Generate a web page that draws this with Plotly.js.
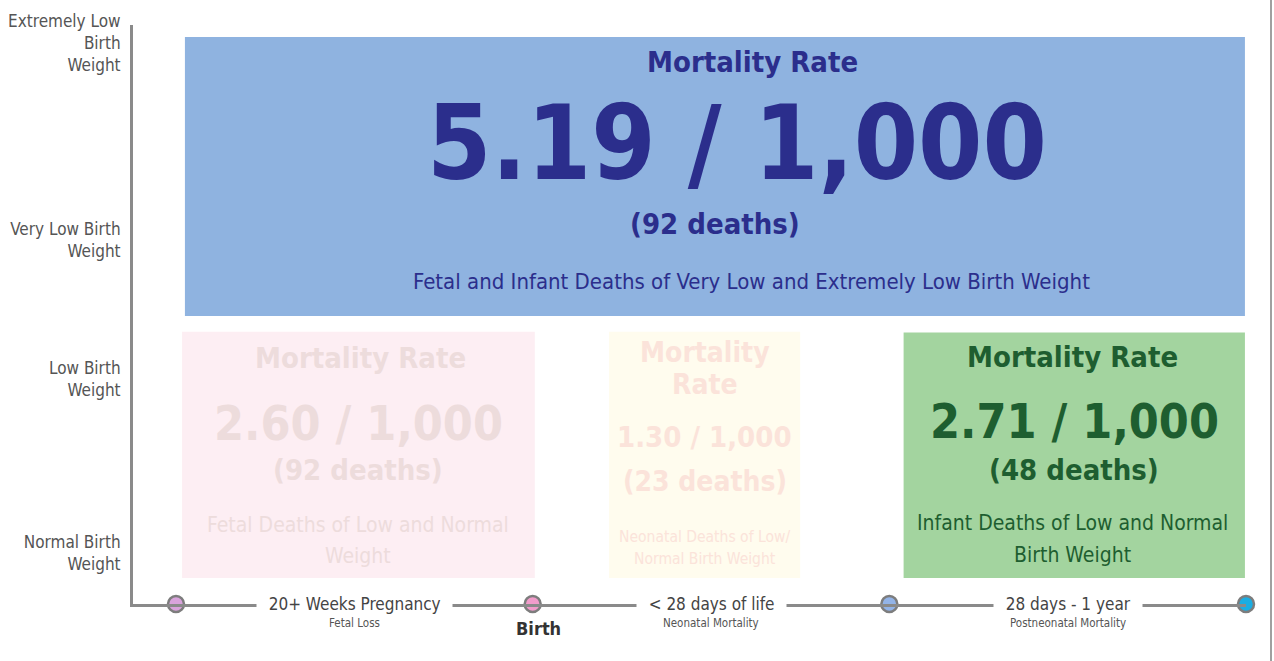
<!DOCTYPE html>
<html>
<head>
<meta charset="utf-8">
<script src="https://cdn.plot.ly/plotly-3.0.1.min.js"></script>
<style>
  html, body { margin: 0; padding: 0; background: #ffffff; }
  #chart { width: 1274px; height: 661px; }
</style>
</head>
<body>
<div id="chart"></div>
<script>
// ---------------- DATA ----------------
const milestones = ["20 weeks gestation", "Birth", "28 days", "1 year"];
const milestoneLabel = ["", "Birth", "", ""];
const periods = ["20+ Weeks Pregnancy", "< 28 days of life", "28 days - 1 year"];
const periodSub = ["Fetal Loss", "Neonatal Mortality", "Postneonatal Mortality"];
const weightBands = ["Normal Birth<br>Weight", "Low Birth<br>Weight", "Very Low Birth<br>Weight", "Extremely Low<br>Birth<br>Weight"];

const boxRates = [5.19, 2.60, 1.30, 2.71];
const boxDeaths = [92, 92, 23, 48];
const boxDesc = [
  "Fetal and Infant Deaths of Very Low and Extremely Low Birth Weight",
  "Fetal Deaths of Low and Normal<br>Weight",
  "Neonatal Deaths of Low/<br>Normal Birth Weight",
  "Infant Deaths of Low and Normal<br>Birth Weight"
];
const boxTitle = ["Mortality Rate", "Mortality Rate", "Mortality<br>Rate", "Mortality Rate"];
const boxFrom = [0, 0, 1, 2];   // milestone index where period starts
const boxTo = [3, 1, 2, 3];     // milestone index where period ends
const boxBandLo = [2, 0, 0, 0]; // weight band (bottom)
const boxBandHi = [4, 2, 2, 2]; // weight band (top)

// ---------------- STYLE ----------------
const FONT = '"DejaVu Sans Condensed", "Liberation Sans Narrow", "Arial Narrow", sans-serif';
const M = {l: 133, r: 28, t: 25, b: 57};
const H = 661;
const plotH = H - M.t - M.b;
const py = p => (H - M.b - p) * 4 / plotH;   // pixel row -> y units
const pp = p => (H - M.b - p) / plotH;       // pixel row -> paper units

const milestoneColors = ["#d9a3dc", "#f29ccb", "#93b4e8", "#1bade2"];
const boxFill = ["#8fb3e0", "#fdeef3", "#fffcee", "#a3d49f"];
const boxText = ["#2b2e8c", "#eddcdc", "#fbe3da", "#1e5e30"];
const boxInset = [ // [left, right, bottom, top] in axis units
  [0.025, 0.003, -0.01, 0.083],
  [0.017, -0.006, 0.18, 0.12],
  [0.214, 0.25, 0.18, 0.12],
  [0.04, 0.003, 0.18, 0.125]
];
// per box: [rowPixel (first line), fontSize, xshift, lineGap] for title, rate, deaths, desc
const boxTextLayout = [
  {title: [62, 29, 38, 0], rate: [143, 103, 22, 0], deaths: [224, 29, 0, 0], desc: [281, 22, 37, 0]},
  {title: [358, 29, 2, 0], rate: [423, 48, 0, 0], deaths: [470, 29, 0, 0], desc: [525, 21, 0, 31]},
  {title: [352, 28, 0, 32], rate: [437, 29, 0, 0], deaths: [481, 28, 0, 0], desc: [537, 15.5, 0, 22]},
  {title: [357, 29, -2, 0], rate: [421, 48, 0, 0], deaths: [470, 29, 0, 0], desc: [523, 21, -2, 32]}
];

// ---------------- BUILD ----------------
const shapes = [];
const annotations = [];

boxRates.forEach((rate, i) => {
  const ins = boxInset[i];
  const x0 = boxFrom[i] + ins[0], x1 = boxTo[i] - ins[1];
  const y0 = boxBandLo[i] + ins[2], y1 = boxBandHi[i] - ins[3];
  shapes.push({type: 'rect', xref: 'x', yref: 'y', x0: x0, x1: x1, y0: y0, y1: y1,
    fillcolor: boxFill[i], line: {width: 0}, layer: 'below'});
  const cx = (x0 + x1) / 2;
  const L = boxTextLayout[i];
  const mk = (txt, spec, bold) => txt.split('<br>').forEach((line, k) => {
    annotations.push({
      x: cx, y: py(spec[0] + k * spec[3]), xref: 'x', yref: 'y', text: line, showarrow: false,
      xanchor: 'center', yanchor: 'middle', xshift: spec[2], align: 'center',
      font: {family: FONT, size: spec[1], color: boxText[i], weight: bold ? 'bold' : 'normal'}
    });
  });
  mk(boxTitle[i], L.title, true);
  mk(rate.toFixed(2) + " / 1,000", L.rate, true);
  mk("(" + boxDeaths[i] + " deaths)", L.deaths, true);
  mk(boxDesc[i], L.desc, false);
});

periods.forEach((p, i) => {
  const xm = (i + i + 1) / 2;
  annotations.push({x: xm, y: pp(604), xref: 'x', yref: 'paper',
    text: '&nbsp;&nbsp;' + p.replace('<', '&lt;') + '&nbsp;&nbsp;', showarrow: false,
    xanchor: 'center', yanchor: 'middle', bgcolor: '#ffffff', borderpad: 2,
    font: {family: FONT, size: 17, color: '#444444'}});
  annotations.push({x: xm, y: pp(623), xref: 'x', yref: 'paper', text: periodSub[i], showarrow: false,
    xanchor: 'center', yanchor: 'middle',
    font: {family: FONT, size: 11.5, color: '#555555'}});
});
milestoneLabel.forEach((lab, i) => {
  if (!lab) return;
  annotations.push({x: i, y: pp(628), xref: 'x', yref: 'paper', text: lab, showarrow: false,
    xanchor: 'center', yanchor: 'middle', xshift: 6,
    font: {family: FONT, size: 18, color: '#333333', weight: 'bold'}});
});

// right border line of the graphic
shapes.push({type: 'line', xref: 'paper', yref: 'paper',
  x0: (1271 - M.l) / (1274 - M.l - M.r), x1: (1271 - M.l) / (1274 - M.l - M.r),
  y0: pp(H), y1: pp(0), line: {color: '#a0a0a0', width: 2}});

const traces = [{
  type: 'scatter', mode: 'markers',
  x: milestones.map((m, i) => i), y: milestones.map(() => 0),
  text: milestones, hoverinfo: 'text',
  marker: {size: 16, color: milestoneColors, line: {color: '#7d7d7d', width: 2.5}},
  cliponaxis: false, showlegend: false
}];

const x0pix = 176; // pixel of first milestone
const unitPx = (1246 - x0pix) / 3;
const xmin = -(x0pix - M.l) / unitPx;

const layout = {
  width: 1274, height: 661,
  margin: M,
  paper_bgcolor: '#ffffff', plot_bgcolor: '#ffffff',
  showlegend: false,
  xaxis: {range: [xmin, 3], showgrid: false, zeroline: false, showticklabels: false,
    showline: true, linecolor: '#8a8a8a', linewidth: 3, fixedrange: true},
  yaxis: {range: [0, 4], showgrid: false, zeroline: false,
    showline: true, linecolor: '#8a8a8a', linewidth: 3, fixedrange: true,
    tickmode: 'array', tickvals: [py(553), py(379), py(240), py(43)], ticktext: weightBands,
    ticks: '', ticklabelstandoff: 6,
    tickfont: {family: FONT, size: 17, color: '#555555'}},
  shapes: shapes,
  annotations: annotations
};

Plotly.newPlot('chart', traces, layout, {displayModeBar: false, staticPlot: true});
</script>
</body>
</html>
